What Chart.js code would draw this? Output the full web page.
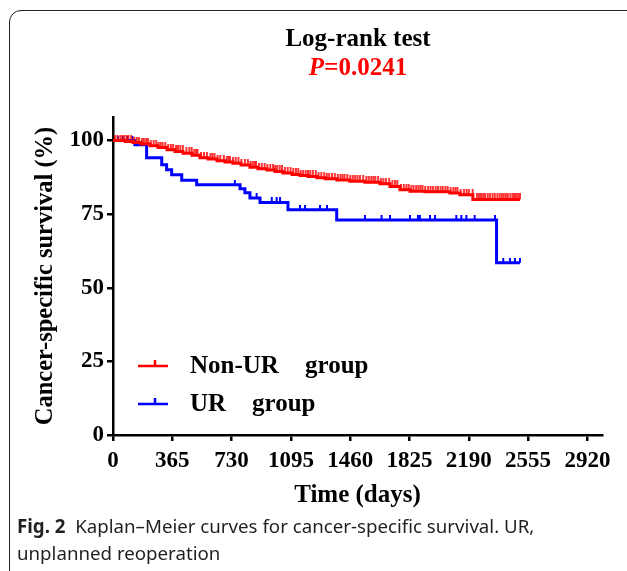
<!DOCTYPE html>
<html>
<head>
<meta charset="utf-8">
<script src="https://cdn.jsdelivr.net/npm/chart.js@4.4.1/dist/chart.umd.min.js"></script>
<style>
  html, body { margin: 0; padding: 0; background: #fff; }
  #page { position: relative; width: 627px; height: 571px; overflow: hidden; background: #fff; }
  #frame { position: absolute; left: 9px; top: 10px; width: 700px; height: 700px;
           border: 1.5px solid #222; border-radius: 12px; }
  #chart { position: absolute; left: 0; top: 0; }
  #title { position: absolute; left: 208px; top: 23px; width: 300px; text-align: center;
           font: bold 25px "Liberation Serif", serif; line-height: 29px; color: #000; }
  #title .p { color: #ff0000; }
  #caption { position: absolute; left: 17px; top: 512px; width: 610px;
             font: 18.7px "Noto Sans", sans-serif; line-height: 27px; color: #231f20; }
</style>
</head>
<body>
<div id="page">
  <div id="frame"></div>
  <canvas id="chart" width="627" height="520"></canvas>
  <div id="title">Log-rank test<br><span class="p"><i>P</i>=0.0241</span></div>
  <div id="caption"><b>Fig. 2</b>&nbsp; Kaplan–Meier curves for cancer-specific survival. UR,<br>unplanned reoperation</div>
</div>
<script>
// Kaplan-Meier steps (day, survival %)
const redTimes = [0, 74, 123, 172, 228, 277, 332, 382, 431, 486, 535, 585, 640, 689, 738, 788, 843, 892, 948, 997, 1046, 1102, 1151, 1200, 1255, 1305, 1378, 1458, 1551, 1643, 1705, 1766, 1828, 1920, 2074, 2135, 2215, 2505];
const redSurv  = [100, 99.7, 99.3, 98.8, 98.2, 97.6, 96.9, 96.3, 95.7, 95.0, 94.2, 93.7, 93.1, 92.7, 92.3, 91.7, 90.9, 90.4, 90.0, 89.5, 89.0, 88.5, 88.1, 87.8, 87.4, 87.0, 86.6, 86.2, 85.8, 85.3, 84.4, 83.3, 82.8, 82.6, 82.2, 81.6, 80.0, 80.0];

const blueTimes = [0, 135, 207, 300, 330, 361, 423, 515, 782, 812, 843, 905, 1077, 1377, 2361, 2505];
const blueSurv  = [100, 98.6, 94.2, 91.8, 90.1, 88.4, 86.5, 85.0, 83.6, 82.3, 80.5, 79.0, 76.5, 73.0, 58.5, 58.5];

// censored observations (days)
const redCensor = [12, 28, 45, 58, 70, 84, 95, 112, 130, 146, 160, 178, 190, 204, 215, 232, 250, 266, 280, 293, 305, 322, 340, 356, 370, 388, 400, 414, 430, 452, 470, 484, 500, 512, 520, 541, 560, 578, 600, 612, 625, 644, 660, 682, 700, 711, 720, 738, 755, 772, 790, 812, 830, 846, 860, 871, 880, 898, 915, 933, 950, 968, 985, 998, 1010, 1026, 1040, 1058, 1075, 1093, 1110, 1126, 1140, 1155, 1170, 1186, 1200, 1214, 1230, 1248, 1265, 1282, 1300, 1316, 1330, 1348, 1365, 1384, 1400, 1413, 1425, 1442, 1460, 1476, 1490, 1505, 1520, 1540, 1560, 1574, 1590, 1603, 1615, 1632, 1650, 1664, 1680, 1700, 1720, 1736, 1750, 1772, 1790, 1806, 1820, 1836, 1850, 1866, 1880, 1893, 1905, 1922, 1940, 1955, 1970, 1986, 2000, 2016, 2030, 2046, 2060, 2078, 2095, 2108, 2120, 2140, 2160, 2176, 2190, 2214, 2240, 2253, 2265, 2278, 2290, 2306, 2320, 2336, 2350, 2366, 2380, 2393, 2405, 2418, 2430, 2446, 2460, 2470, 2480, 2493, 2505];
const blueCensor = [30, 60, 90, 120, 750, 884, 977, 1007, 1028, 1151, 1182, 1274, 1317, 1551, 1653, 1705, 1828, 1877, 1889, 1951, 1982, 2113, 2144, 2175, 2226, 2351, 2402, 2443, 2474, 2505];

const xTicks = [0, 365, 730, 1095, 1460, 1825, 2190, 2555, 2920];
const yTicks = [0, 25, 50, 75, 100];

const RED = '#ff0000';
const BLUE = '#0000ff';

function survAt(times, surv, d) {
    var s = surv[0];
    for (var i = 0; i < times.length; i++) {
        if (times[i] <= d) s = surv[i];
    }
    return s;
}

function steps(times, surv) {
    return times.map(function (t, i) { return { x: t, y: surv[i] }; });
}

function censorPoints(days, times, surv) {
    return days.map(function (d) { return { x: d, y: survAt(times, surv, d) }; });
}

// little upward tick used for censor marks
function tickMark(color, h, w) {
    var c = document.createElement('canvas');
    c.width = 4;
    c.height = h * 2;
    var g = c.getContext('2d');
    g.strokeStyle = color;
    g.lineWidth = w;
    g.beginPath();
    g.moveTo(2, 0);
    g.lineTo(2, h);
    g.stroke();
    return c;
}

const serif = '"Liberation Serif", "Times New Roman", serif';

// legend drawn inside the plot, like the original
const legendPlugin = {
    id: 'kmLegend',
    afterDatasetsDraw(chart) {
        const ctx = chart.ctx;
        const items = [
            { color: RED, y: 366, labels: [['Non-UR', 190], ['group', 305]] },
            { color: BLUE, y: 404, labels: [['UR', 190], ['group', 252]] }
        ];
        ctx.save();
        items.forEach(function (it) {
            ctx.strokeStyle = it.color;
            ctx.lineWidth = 2.5;
            ctx.beginPath();
            ctx.moveTo(138, it.y);
            ctx.lineTo(168, it.y);
            ctx.moveTo(155, it.y);
            ctx.lineTo(155, it.y - 6);
            ctx.stroke();
            ctx.fillStyle = '#000';
            ctx.font = 'bold 25px ' + serif;
            ctx.textBaseline = 'middle';
            it.labels.forEach(function (l) { ctx.fillText(l[0], l[1], it.y + 1); });
        });
        ctx.restore();
    }
};

const axisCommon = {
    border: { display: true, color: '#000', width: 2.5 },
    grid: { drawOnChartArea: false, drawTicks: true, tickLength: 6, color: '#000', lineWidth: 2.5 },
};

new Chart(document.getElementById('chart'), {
    type: 'line',
    data: {
        datasets: [
            {
                label: 'Non-UR group',
                data: steps(redTimes, redSurv),
                borderColor: RED,
                borderWidth: 3,
                stepped: 'before',
                pointRadius: 0,
                fill: false
            },
            {
                label: 'Non-UR censored',
                data: censorPoints(redCensor, redTimes, redSurv),
                showLine: false,
                pointStyle: tickMark(RED, 6, 1.6),
                borderColor: RED
            },
            {
                label: 'UR group',
                data: steps(blueTimes, blueSurv),
                borderColor: BLUE,
                borderWidth: 3,
                stepped: 'before',
                pointRadius: 0,
                fill: false
            },
            {
                label: 'UR censored',
                data: censorPoints(blueCensor, blueTimes, blueSurv),
                showLine: false,
                pointStyle: tickMark(BLUE, 5, 2),
                borderColor: BLUE
            }
        ]
    },
    options: {
        responsive: false,
        animation: false,
        events: [],
        layout: { padding: { left: 27, top: 117, right: 25, bottom: 5 } },
        plugins: {
            legend: { display: false },
            tooltip: { enabled: false }
        },
        scales: {
            x: Object.assign({}, axisCommon, {
                type: 'linear',
                min: 0,
                max: 3010,
                afterFit: function (s) { s.height = 80; },
                afterBuildTicks: function (s) { s.ticks = xTicks.map(function (v) { return { value: v }; }); },
                ticks: {
                    color: '#000',
                    padding: 6,
                    maxRotation: 0,
                    autoSkip: false,
                    callback: function (v) { return String(v); },
                    font: { family: serif, size: 23, weight: 'bold' }
                },
                title: {
                    display: true,
                    text: 'Time (days)',
                    color: '#000',
                    font: { family: serif, size: 25, weight: 'bold' }
                }
            }),
            y: Object.assign({}, axisCommon, {
                min: 0,
                max: 108,
                afterFit: function (s) { s.width = 86; },
                afterBuildTicks: function (s) { s.ticks = yTicks.map(function (v) { return { value: v }; }); },
                ticks: {
                    color: '#000',
                    padding: 3,
                    callback: function (v) { return String(v); },
                    font: { family: serif, size: 23, weight: 'bold' }
                },
                title: {
                    display: true,
                    text: 'Cancer-specific survival (%)',
                    color: '#000',
                    font: { family: serif, size: 24.5, weight: 'bold' }
                }
            })
        }
    },
    plugins: [legendPlugin]
});
</script>
</body>
</html>
